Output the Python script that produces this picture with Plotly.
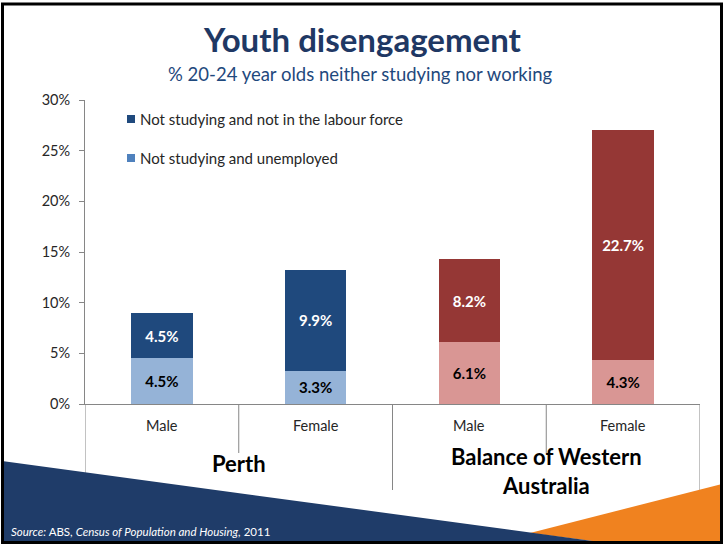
import plotly.graph_objects as go

# ---- data -------------------------------------------------------------
regions = ["Perth", "Perth", "Balance of Western Australia", "Balance of Western Australia"]
sexes = ["Male", "Female", "Male", "Female"]
unemployed = [4.5, 3.3, 6.1, 4.3]                 # Not studying and unemployed
not_in_labour_force = [4.5, 9.9, 8.2, 22.7]       # Not studying and not in the labour force
group_names = ["Perth", "Balance of Western Australia"]
group_labels = ["Perth", "Balance of Western<br>Australia"]
y_ticks = [0, 5, 10, 15, 20, 25, 30]
y_tick_labels = [f"{v}%" for v in y_ticks]

series_names = ["Not studying and not in the labour force", "Not studying and unemployed"]

# ---- styling ----------------------------------------------------------
FONT = "Lato, 'Open Sans', sans-serif"
DARK = {"Perth": "#1F497D", "Balance of Western Australia": "#953735"}
LIGHT = {"Perth": "#95B3D7", "Balance of Western Australia": "#D99694"}
LEGEND_COLORS = ["#1F497D", "#4F81BD"]
AXIS_GREY = "#868686"
TEXT_GREY = "#262626"
NAVY = "#1F3C69"
ORANGE = "#F0821F"

W, H = 724, 545
ML, MR, MT, MB = 85, 24, 100, 141
PW, PH = W - ML - MR, H - MT - MB


def fx(px):
    """Horizontal pixel position -> paper fraction."""
    return (px - ML) / PW


def fy(py):
    """Vertical pixel position -> paper fraction."""
    return (H - MB - py) / PH


x = list(range(len(sexes)))

fig = go.Figure()
fig.add_trace(go.Bar(
    x=x, y=unemployed, name=series_names[1],
    marker=dict(color=[LIGHT[r] for r in regions], line=dict(width=0)),
    texttemplate="<b>%{y:.1f}%</b>", textposition="inside",
    insidetextanchor="middle", textangle=0, constraintext="none",
    textfont=dict(family=FONT, size=15, color="#000000"),
    showlegend=False, hoverinfo="skip",
))
fig.add_trace(go.Bar(
    x=x, y=not_in_labour_force, name=series_names[0],
    marker=dict(color=[DARK[r] for r in regions], line=dict(width=0)),
    texttemplate="<b>%{y:.1f}%</b>", textposition="inside",
    insidetextanchor="middle", textangle=0, constraintext="none",
    textfont=dict(family=FONT, size=15, color="#FFFFFF"),
    showlegend=False, hoverinfo="skip",
))

annotations = [
    dict(text="<b>Youth disengagement</b>", x=fx(362), y=fy(39),
         font=dict(size=33, color="#1F3864", family=FONT)),
    dict(text="% 20-24 year olds neither studying nor working", x=fx(360), y=fy(74),
         font=dict(size=18.5, color="#1F497D", family=FONT)),
    dict(text="<i>Source:</i> ABS, <i>Census of Population and Housing,</i> 2011",
         x=fx(9), y=fy(531), xanchor="left",
         font=dict(size=11.5, color="#FFFFFF", family=FONT)),
]
for a in annotations:
    a.setdefault("xref", "paper")
    a.setdefault("yref", "paper")
    a.setdefault("showarrow", False)
    a.setdefault("yanchor", "middle")

# category labels beneath the axis
for i, s in enumerate(sexes):
    annotations.append(dict(text=s, x=i, xref="x", y=fy(425), yref="paper",
                            showarrow=False, yanchor="middle",
                            font=dict(size=14.5, color=TEXT_GREY, family=FONT)))

# group labels, centred under each pair of bars
for g, label in zip(group_names, group_labels):
    idx = [i for i, r in enumerate(regions) if r == g]
    centre = sum(idx) / len(idx)
    ypix = 463 if "<br>" not in label else 471
    annotations.append(dict(text=f"<b>{label}</b>", x=centre, xref="x", y=fy(ypix),
                            yref="paper", showarrow=False, yanchor="middle",
                            font=dict(size=22, color="#000000", family=FONT)))

# legend, drawn as square swatches with labels
shapes = []
for name, col, ypix in zip(series_names, LEGEND_COLORS, [119, 158]):
    shapes.append(dict(type="rect", xref="paper", yref="paper",
                       x0=fx(127), x1=fx(135), y0=fy(ypix + 4), y1=fy(ypix - 4),
                       fillcolor=col, line=dict(width=0)))
    annotations.append(dict(text=name, x=fx(138), y=fy(ypix), xref="paper", yref="paper",
                            xanchor="left", yanchor="middle", showarrow=False,
                            font=dict(size=15, color=TEXT_GREY, family=FONT)))

# category separators: short between sexes, long between groups
bounds = [i - 0.5 for i in range(len(sexes) + 1)]
for b in bounds:
    left = regions[int(b - 0.5)] if b - 0.5 >= 0 else None
    right = regions[int(b + 0.5)] if b + 0.5 < len(regions) else None
    long_line = left != right
    shapes.append(dict(type="line", xref="x", yref="paper", x0=b, x1=b,
                       y0=0, y1=fy(490 if long_line else 453),
                       line=dict(color=AXIS_GREY, width=1)))


def poly(points):
    return "M " + " L ".join(f"{fx(px):.5f},{fy(py):.5f}" for px, py in points) + " Z"


# decorative corner wedges
shapes.append(dict(type="path", xref="paper", yref="paper",
                   path=poly([(530, 533), (722, 484), (722, 542), (600, 542)]),
                   fillcolor=ORANGE, line=dict(width=0)))
shapes.append(dict(type="path", xref="paper", yref="paper",
                   path=poly([(2, 461), (600, 542), (2, 542)]),
                   fillcolor=NAVY, line=dict(width=0)))
# slide frame
shapes.append(dict(type="rect", xref="paper", yref="paper",
                   x0=fx(2.5), x1=fx(721.5), y0=fy(542.5), y1=fy(4),
                   line=dict(color="#000000", width=3), fillcolor="rgba(0,0,0,0)"))

fig.update_layout(
    width=W, height=H,
    margin=dict(l=ML, r=MR, t=MT, b=MB, pad=0),
    paper_bgcolor="#FFFFFF", plot_bgcolor="#FFFFFF",
    barmode="stack", bargap=0.6,
    showlegend=False,
    font=dict(family=FONT, color=TEXT_GREY),
    xaxis=dict(range=[-0.5, len(sexes) - 0.5], showticklabels=False, ticks="",
               showgrid=False, zeroline=False, showline=True,
               linecolor=AXIS_GREY, linewidth=1, fixedrange=True),
    yaxis=dict(range=[0, 30], tickmode="array", tickvals=y_ticks, ticktext=y_tick_labels,
               ticks="outside", ticklen=5, tickcolor=AXIS_GREY, showgrid=False,
               zeroline=False, showline=True, linecolor=AXIS_GREY, linewidth=1,
               ticklabelstandoff=6,
               tickfont=dict(size=14.5, color=TEXT_GREY, family=FONT), fixedrange=True),
    annotations=annotations,
    shapes=shapes,
)

fig.write_html("out.html")
